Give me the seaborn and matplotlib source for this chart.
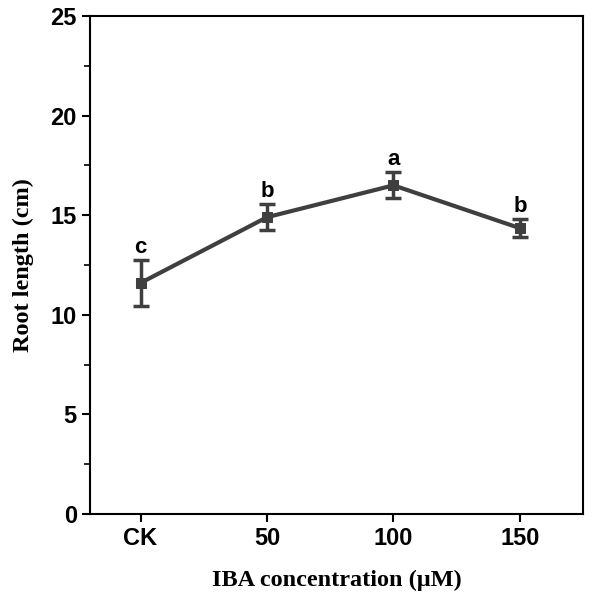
import matplotlib
matplotlib.use("Agg")
import matplotlib.pyplot as plt
from matplotlib.ticker import MultipleLocator
import seaborn as sns
import pandas as pd

# data
conc = ["CK", "50", "100", "150"]
root_len = [11.6, 14.9, 16.5, 14.35]
root_sd = [1.15, 0.65, 0.65, 0.45]
letters = ["c", "b", "a", "b"]

df = pd.DataFrame({"conc": conc, "length": root_len, "sd": root_sd})

sns.set_style("ticks")
plt.rcParams["font.family"] = ["Liberation Sans", "DejaVu Sans"]

fig = plt.figure(figsize=(5.92, 6), dpi=100)
ax = fig.add_axes([0.152, 0.1433, 0.833, 0.83])

line_col = "#3f3f3f"
sns.lineplot(data=df, x="conc", y="length", ax=ax, color=line_col, lw=3,
             marker="s", markersize=7, markeredgecolor=line_col, sort=False)
ax.errorbar(range(len(conc)), df["length"], yerr=df["sd"], fmt="none",
            ecolor=line_col, elinewidth=2.5, capsize=6, capthick=2.5)

for i, (y, e, t) in enumerate(zip(root_len, root_sd, letters)):
    ax.text(i, y + e + 0.12, t, ha="center", va="bottom",
            fontsize=16, fontweight="bold", color="black")

ax.set_xlim(-0.4, 3.5)
ax.set_ylim(0, 25)
ax.yaxis.set_major_locator(MultipleLocator(5))
ax.yaxis.set_minor_locator(MultipleLocator(2.5))

for s in ax.spines.values():
    s.set_visible(True)
    s.set_linewidth(1.5)
    s.set_color("black")

ax.tick_params(axis="both", which="major", direction="out", length=6, width=1.5,
               labelsize=17, top=False, right=False, colors="black")
ax.tick_params(axis="y", which="minor", direction="out", length=4, width=1.2,
               colors="black")
for lab in ax.get_xticklabels() + ax.get_yticklabels():
    lab.set_fontweight("bold")

ax.set_xlabel("IBA concentration (μM)", fontsize=17.5, fontweight="bold",
              family="Liberation Serif", labelpad=14, color="black")
ax.set_ylabel("Root length (cm)", fontsize=17.5, fontweight="bold",
              family="Liberation Serif", labelpad=12, color="black")

fig.savefig("out.png", dpi=100)
